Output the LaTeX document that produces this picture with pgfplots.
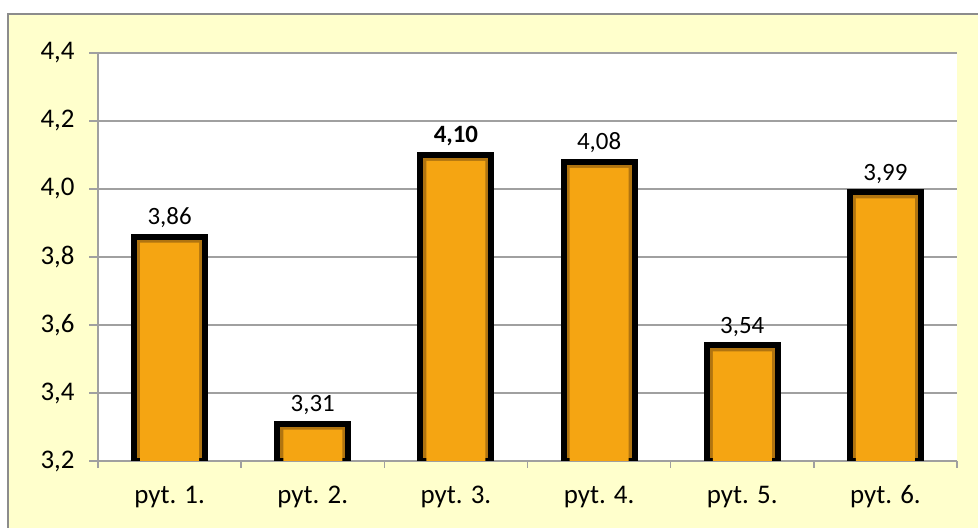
\documentclass[border=0pt]{standalone}
\usepackage{pgfplots}
\pgfplotsset{compat=1.18}
\usepackage{fontspec}
\setmainfont{Carlito}
\definecolor{bg}{HTML}{FFFFCC}
\definecolor{barfill}{HTML}{F5A512}
\definecolor{bevel}{HTML}{B07410}
\definecolor{gridgray}{HTML}{A0A0A0}
\definecolor{framegray}{HTML}{8C8C8C}
\pgfplotstableread{
x y lab
0 3.86 3,86
1 3.31 3,31
2 4.10 \textbf{4,10}
3 4.08 4,08
4 3.54 3,54
5 3.99 3,99
}\bars
\begin{document}
\begin{tikzpicture}[x=1bp,y=1bp]
\useasboundingbox (0,0) rectangle (978,528);
\fill[white] (0,0) rectangle (978,528);
\fill[bg] (8,0) rectangle (978,514);
\draw[framegray, line width=2bp] (8,-2) -- (8,514) -- (980,514);
\begin{axis}[
  at={(98bp,67bp)}, anchor=south west, scale only axis,
  width=859bp, height=408bp,
  xmin=-0.5, xmax=5.5, ymin=3.2, ymax=4.4,
  ytick={3.2,3.4,3.6,3.8,4.0,4.2,4.4},
  xtick={0,1,2,3,4,5},
  xticklabels={pyt. 1.,pyt. 2.,pyt. 3.,pyt. 4.,pyt. 5.,pyt. 6.},
  xtick style={draw=none},
  ytick style={gridgray, line width=1.5bp},
  extra x ticks={-0.5,0.5,1.5,2.5,3.5,4.5,5.5},
  extra x tick labels={},
  extra x tick style={major tick length=7bp, xtick style={draw=gridgray, line width=1.5bp}},
  ymajorgrids,
  grid style={gridgray, line width=1.5bp},
  axis lines*=left,
  axis line style={gridgray, line width=1.5bp},
  tick align=outside, major tick length=9bp,
  axis background/.style={fill=white},
  tick label style={font=\fontsize{27}{32}\selectfont, text=black},
  /pgf/number format/.cd, use comma, fixed, fixed zerofill, precision=1, assume math mode=true,
  /pgfplots/.cd,
  yticklabel style={xshift=-11bp},
  xticklabel style={anchor=base, yshift=-34bp},
]
\addplot[ybar, bar shift=0pt, bar width=71bp, fill=bevel, draw=black, line width=6bp,
  nodes near coords, point meta=explicit symbolic,
  every node near coord/.append style={anchor=base, inner sep=0pt, yshift=12bp,
    font=\fontsize{25}{30}\selectfont, text=black}]
  table[meta=lab] {\bars};
\addplot[ybar, bar shift=0pt, bar width=59bp, fill=barfill, draw=none, yshift=-6bp]
  table[x=x, y=y] {\bars};
\end{axis}
\end{tikzpicture}
\end{document}
